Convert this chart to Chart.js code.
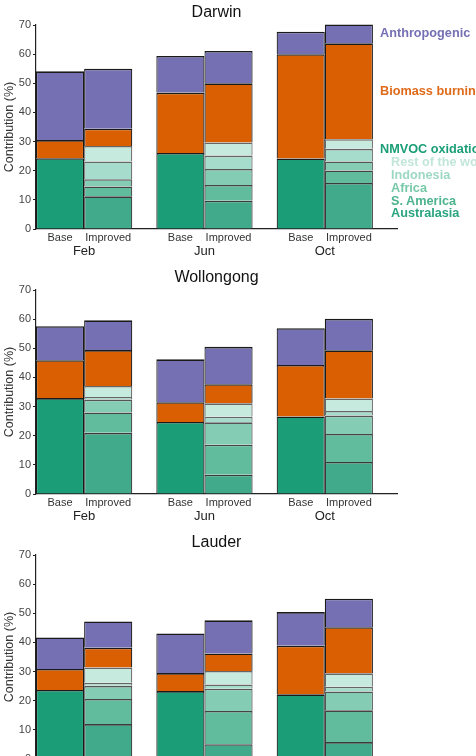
<!DOCTYPE html>
<html lang="en">
<head>
    <meta charset="UTF-8">
    <title>Contribution by source</title>
    <style>
        body {
            margin: 0;
            background: #fff;
            width: 476px;
            height: 756px;
            overflow: hidden;
            font-family: "Liberation Sans", Arial, Helvetica, sans-serif;
        }
        .panel {
            position: relative;
            width: 476px;
            height: 265px;
        }
        .panel canvas {
            position: absolute;
            left: 0;
            top: 0;
        }
        .key {
            position: absolute;
            left: 380px;
            font-size: 12.7px;
            font-weight: bold;
            line-height: 14px;
            white-space: nowrap;
        }
        .key.sub { left: 391px; }
    </style>
    <script src="https://cdn.jsdelivr.net/npm/chart.js"></script>
</head>
<body>

<div class="panel" id="panel0">
    <canvas id="chart0" width="476" height="265"></canvas>
    <div class="key" style="top:26px;color:#7570b3">Anthropogenic</div>
    <div class="key" style="top:84px;color:#df6a1a">Biomass burning</div>
    <div class="key" style="top:142px;color:#1b9e77">NMVOC oxidation</div>
    <div class="key sub" style="top:155px;color:#c2e6d9">Rest of the world</div>
    <div class="key sub" style="top:168px;color:#9dd8c3">Indonesia</div>
    <div class="key sub" style="top:181px;color:#78c8aa">Africa</div>
    <div class="key sub" style="top:194px;color:#4db48f">S. America</div>
    <div class="key sub" style="top:206px;color:#2ba480">Australasia</div>
</div>
<div class="panel" id="panel1">
    <canvas id="chart1" width="476" height="265"></canvas>
</div>
<div class="panel" id="panel2">
    <canvas id="chart2" width="476" height="265"></canvas>
</div>

<script>
    const months = ['Feb', 'Jun', 'Oct'];
    const runs = ['Base', 'Improved'];

    // Darwin
    const darwinBaseNmvoc = [24.3, 26.1, 24.2];
    const darwinBaseBiomass = [6.2, 20.7, 35.8];
    const darwinBaseAnthro = [23.6, 12.6, 7.7];
    const darwinAustralasia = [11.2, 9.7, 15.8];
    const darwinSAmerica = [3.4, 5.4, 4.3];
    const darwinAfrica = [2.5, 5.5, 3.1];
    const darwinIndonesia = [6.1, 4.6, 4.3];
    const darwinRest = [5.3, 4.5, 3.3];
    const darwinImpBiomass = [5.9, 20.3, 32.9];
    const darwinImpAnthro = [20.6, 11.1, 6.5];

    // Wollongong
    const wollBaseNmvoc = [32.9, 24.7, 26.6];
    const wollBaseBiomass = [13.0, 6.8, 17.7];
    const wollBaseAnthro = [11.7, 14.7, 12.6];
    const wollAustralasia = [21.0, 6.6, 11.0];
    const wollSAmerica = [7.0, 10.3, 9.6];
    const wollAfrica = [4.4, 7.7, 6.3];
    const wollIndonesia = [0.9, 1.9, 1.6];
    const wollRest = [3.8, 4.6, 4.3];
    const wollImpBiomass = [12.3, 6.6, 16.5];
    const wollImpAnthro = [10.2, 12.8, 10.8];

    // Lauder
    const lauderBaseNmvoc = [23.7, 23.3, 22.2];
    const lauderBaseBiomass = [7.2, 6.2, 16.7];
    const lauderBaseAnthro = [10.8, 13.6, 11.5];
    const lauderAustralasia = [12.0, 5.1, 5.8];
    const lauderSAmerica = [8.6, 11.4, 10.9];
    const lauderAfrica = [4.5, 7.6, 6.5];
    const lauderIndonesia = [1.1, 1.5, 1.6];
    const lauderRest = [5.2, 4.6, 4.6];
    const lauderImpBiomass = [6.8, 6.0, 15.8];
    const lauderImpAnthro = [9.0, 11.4, 9.8];

    const stations = [
        { title: 'Darwin',
          base: [darwinBaseNmvoc, darwinBaseBiomass, darwinBaseAnthro],
          improved: [darwinAustralasia, darwinSAmerica, darwinAfrica, darwinIndonesia, darwinRest, darwinImpBiomass, darwinImpAnthro] },
        { title: 'Wollongong',
          base: [wollBaseNmvoc, wollBaseBiomass, wollBaseAnthro],
          improved: [wollAustralasia, wollSAmerica, wollAfrica, wollIndonesia, wollRest, wollImpBiomass, wollImpAnthro] },
        { title: 'Lauder',
          base: [lauderBaseNmvoc, lauderBaseBiomass, lauderBaseAnthro],
          improved: [lauderAustralasia, lauderSAmerica, lauderAfrica, lauderIndonesia, lauderRest, lauderImpBiomass, lauderImpAnthro] }
    ];

    const baseColors = ['#1b9e77', '#d95f02', '#7570b3'];
    const improvedColors = ['#40aa8a', '#61bc9e', '#84ccb4', '#a6dccb', '#c7eadf', '#d95f02', '#7570b3'];
    const improvedEdges = ['#3a3a3a', '#444', '#555', '#666', '#666', '#1a1a1a', '#1a1a1a'];

    Chart.defaults.font.family = '"Liberation Sans", Arial, Helvetica, sans-serif';
    Chart.defaults.color = '#333';

    function toPoints(values) {
        return values.map((v, i) => ({ x: i, y: v }));
    }

    function makeDatasets(station) {
        const sets = [];
        station.base.forEach((vals, k) => {
            sets.push({
                data: toPoints(vals),
                stack: 'base',
                backgroundColor: baseColors[k],
                borderColor: '#1a1a1a',
                borderWidth: { top: 1.6, left: 1.2, right: 1.2, bottom: 0 },
                borderSkipped: false,
                clip: false
            });
        });
        station.improved.forEach((vals, k) => {
            sets.push({
                data: toPoints(vals),
                stack: 'improved',
                backgroundColor: improvedColors[k],
                borderColor: improvedEdges[k],
                borderWidth: { top: 1.6, left: 1.2, right: 1.2, bottom: 0 },
                borderSkipped: false,
                clip: false
            });
        });
        return sets;
    }

    stations.forEach((station, n) => {
        const ctx = document.getElementById('chart' + n).getContext('2d');
        new Chart(ctx, {
            type: 'bar',
            data: { datasets: makeDatasets(station) },
            options: {
                responsive: false,
                animation: false,
                layout: { padding: { left: 0, right: 79, top: 0, bottom: 0 } },
                datasets: { bar: { barPercentage: 1, categoryPercentage: 0.8 } },
                plugins: {
                    legend: { display: false },
                    tooltip: { enabled: false },
                    title: {
                        display: true,
                        text: station.title,
                        fullSize: false,
                        color: '#111',
                        font: { size: 16, weight: 'normal' },
                        padding: { top: 3, bottom: 2.8 }
                    }
                },
                scales: {
                    x: {
                        type: 'linear',
                        min: -0.4,
                        max: 2.6,
                        offset: false,
                        weight: 0,
                        grid: { display: false, drawTicks: false },
                        border: { display: true, color: '#222', width: 1.2 },
                        ticks: { display: false },
                        afterBuildTicks: axis => { axis.ticks = months.map((m, i) => ({ value: i })); },
                        afterFit: axis => { axis.height = 0; }
                    },
                    xb: {
                        type: 'linear',
                        position: 'bottom',
                        min: -0.4,
                        max: 2.6,
                        offset: false,
                        weight: 1,
                        grid: { display: true, offset: false, drawOnChartArea: false, drawTicks: true, tickLength: -3, color: '#333' },
                        border: { display: false },
                        ticks: {
                            autoSkip: false,
                            maxRotation: 0,
                            minRotation: 0,
                            padding: 5,
                            color: '#333',
                            font: { size: 11 },
                            callback: (v, idx) => runs[idx % 2]
                        },
                        afterBuildTicks: axis => {
                            axis.ticks = months.flatMap((m, i) => [{ value: i - 0.2 }, { value: i + 0.2 }]);
                        },
                        afterFit: axis => { axis.height = 14; }
                    },
                    xm: {
                        type: 'linear',
                        position: 'bottom',
                        min: -0.4,
                        max: 2.6,
                        offset: false,
                        weight: 2,
                        grid: { display: false, drawTicks: false },
                        border: { display: false },
                        ticks: {
                            autoSkip: false,
                            maxRotation: 0,
                            minRotation: 0,
                            padding: 1,
                            color: '#222',
                            font: { size: 13 },
                            callback: v => months[Math.round(v)]
                        },
                        afterBuildTicks: axis => { axis.ticks = months.map((m, i) => ({ value: i })); },
                        afterFit: axis => { axis.height = 22; }
                    },
                    y: {
                        stacked: true,
                        min: 0,
                        max: 70,
                        grid: { drawOnChartArea: false, drawTicks: true, tickLength: 3, color: '#222' },
                        border: { color: '#222', width: 1.2 },
                        ticks: { stepSize: 10, padding: 2, color: '#444', font: { size: 11 } },
                        title: {
                            display: true,
                            text: 'Contribution (%)',
                            color: '#333',
                            font: { size: 12.5 },
                            padding: { top: 2, bottom: 0 }
                        },
                        afterFit: axis => { axis.width = 36; }
                    }
                }
            }
        });
    });
</script>

</body>
</html>
